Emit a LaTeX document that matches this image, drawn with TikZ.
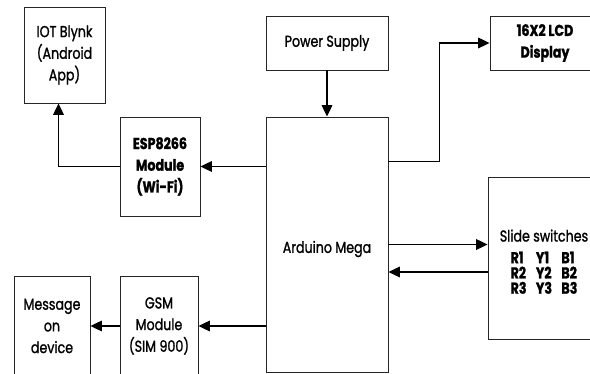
\documentclass[tikz,border=0pt]{standalone}
\usepackage{fontspec}
\setmainfont{Poppins}[FakeStretch=0.8, FakeBold=1.2]
\usetikzlibrary{positioning, arrows.meta, calc}

\begin{document}
\begin{tikzpicture}[
    x=0.03cm, y=0.03cm,
    font=\fontsize{13.5}{18.5}\selectfont,
    block/.style={
        rectangle, draw=black!85,
        line width=0.8pt, inner sep=2pt,
        align=center,
    },
    heavy/.style={font=\fontsize{13.5}{18.5}\selectfont\bfseries},
    flow/.style={
        -{Triangle[length=0.34cm, width=0.32cm]},
        line width=0.9pt, draw=black,
    },
]

% =============== Frame ===============
\useasboundingbox (0, 0) rectangle (590, 374);
\clip (0, 0) rectangle (590, 374);

% =============== Blocks ===============
\node[block, minimum width=2.43cm, minimum height=2.88cm] (iot) at (64.5, 319)
    {IOT Blynk\\(Android\\App)};
\node[block, heavy, minimum width=2.40cm, minimum height=2.97cm] (esp) at (160, 207.5)
    {ESP8266\\Module\\(Wi-Fi)};
\node[block, minimum width=3.66cm, minimum height=1.62cm] (power) at (327, 331)
    {Power Supply};
\node[block, minimum width=3.66cm, minimum height=7.65cm] (arduino) at (327, 129.5)
    {\rule{0pt}{18pt}Arduino Mega};
\node[block, heavy, minimum width=3.30cm, minimum height=1.62cm] (lcd) at (545, 331)
    {16X2 LCD\\Display};
% switch grid: one row per colour index
\node[block, minimum width=3.36cm, minimum height=4.86cm] (slide) at (544, 116)
    {\rule{0pt}{22pt}Slide switches\\
     \begin{tabular}[t]{@{}l@{\hspace{8pt}}l@{\hspace{8pt}}l@{}}
        \bfseries R1 & \bfseries Y1 & \bfseries B1\\[-5.5pt]
        \bfseries R2 & \bfseries Y2 & \bfseries B2\\[-5.5pt]
        \bfseries R3 & \bfseries Y3 & \bfseries B3
     \end{tabular}};
\node[block, minimum width=2.28cm, minimum height=2.97cm] (msg) at (52, 48)
    {Message\\on\\device};
\node[block, minimum width=2.34cm, minimum height=2.97cm] (gsm) at (159, 48)
    {GSM\\Module\\(SIM 900)};

% =============== Connectors ===============
\draw[flow] (power) -- (arduino);
\draw[flow] ($(arduino.north east)+(0, -45)$) -- ++(51, 0) |- (lcd.west);
\draw[flow] (arduino.west |- esp.east) -- (esp.east);
\coordinate (iotin) at ($(iot.south)+(-6, 0)$);
\draw[flow] (esp.west) -| (iotin);
\draw[flow] (arduino.west |- gsm.east) -- (gsm.east);
\draw[flow] (gsm.west) -- (msg.east);
\draw[flow] (arduino.east) -- (arduino.east -| slide.west);
\coordinate (swout) at ($(slide.west)+(0, -14)$);
\draw[flow] (swout) -- (swout -| arduino.east);

\end{tikzpicture}
\end{document}
